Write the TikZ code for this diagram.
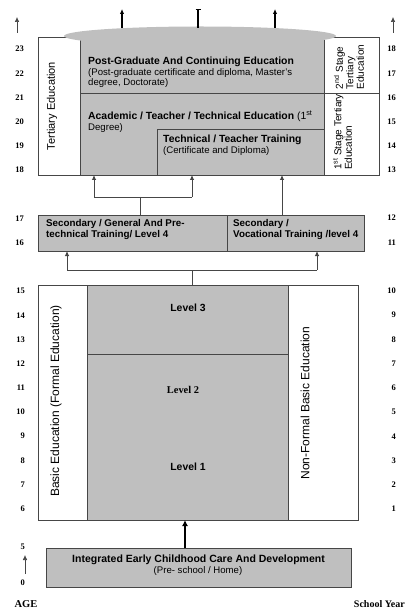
\documentclass[tikz,border=0pt]{standalone}
\usepackage{fontspec}
\setmainfont{Liberation Serif}
\setsansfont{Liberation Sans}
\usetikzlibrary{arrows.meta}

\definecolor{boxgray}{RGB}{191,191,191}
\definecolor{edge}{RGB}{70,70,70}

\tikzset{
  box/.style={draw=edge, line width=0.8pt, outer sep=0pt, inner sep=0pt},
  graybox/.style={box, fill=boxgray},
  head/.style={font=\sffamily\bfseries\fontsize{10.4}{11}\selectfont, anchor=base west, inner sep=0pt},
  note/.style={font=\sffamily\fontsize{9.6}{10.5}\selectfont, anchor=base west, inner sep=0pt},
  side/.style={font=\sffamily\fontsize{11}{12}\selectfont, rotate=90, inner sep=0pt},
  num/.style={font=\bfseries\fontsize{8.5}{10}\selectfont, anchor=east, inner sep=0pt},
  link/.style={draw=edge, line width=0.8pt},
  up/.style={link, -{Latex[length=5pt,width=4.5pt]}},
}

\begin{document}
\begin{tikzpicture}[x=1pt,y=-1pt]
  \useasboundingbox (0,0) rectangle (406,612);

  % tertiary block
  \node[box, fill=white, minimum width=341, minimum height=138, anchor=north west] (tert) at (38,37) {};
  \node[graybox, minimum width=244, minimum height=138, anchor=north west] (tmain) at (80,37) {};
  \node[graybox, minimum width=167, minimum height=46, anchor=north west] (ttech) at (157,129) {};
  \coordinate (pgl) at (80,93);
  \coordinate (pgr) at (379,93);
  \draw[link] (pgl) -- (pgr);
  \fill[boxgray] (200,36) ellipse [x radius=136, y radius=9.5];

  \coordinate (cap1) at (122,28);
  \coordinate (cap2) at (198,28);
  \coordinate (cap3) at (275,28);
  \draw[up, black, line width=1.3pt] (cap1) -- ++(0,-19);
  \draw[black, line width=1.3pt, -{Bar[width=5pt]}] (cap2) -- ++(0,-19);
  \draw[up, black, line width=1.3pt] (cap3) -- ++(0,-19);

  \node[side] (tlab) at (52,106) {Tertiary Education};
  \node[head] (pgt) at (88,65) {Post-Graduate And Continuing Education};
  \node[note] (pgs1) at (88,75.5) {(Post-graduate certificate and diploma, Master's};
  \node[note] (pgs2) at (88,86) {degree, Doctorate)};
  \node[head] (act) at (88,119.5) {Academic / Teacher / Technical Education \mdseries(1\textsuperscript{st}};
  \node[note] (acs) at (88,130.5) {Degree)};
  \node[head] (tct) at (163,142.5) {Technical / Teacher Training};
  \node[note] (tcs) at (163,154) {(Certificate and Diploma)};
  \node[side, font=\sffamily\fontsize{10}{10.5}\selectfont, align=left] (st2) at (349,67)
    {2\textsuperscript{nd} Stage\\Tertiary\\Education};
  \node[side, font=\sffamily\fontsize{10}{10.5}\selectfont, align=left] (st1) at (342.5,132)
    {1\textsuperscript{st} Stage Tertiary\\Education};

  % secondary block
  \node[graybox, minimum width=189, minimum height=36, anchor=north west] (sgen) at (38,215) {};
  \node[graybox, minimum width=137, minimum height=36, anchor=north west] (svoc) at (227,215) {};
  \node[head, font=\sffamily\bfseries\fontsize{9.8}{10.6}\selectfont, align=left, anchor=north west] (sgent) at (46,219.5)
    {Secondary / General And Pre-\\technical Training/ Level 4};
  \node[head, font=\sffamily\bfseries\fontsize{9.8}{10.6}\selectfont, align=left, anchor=north west] (svoct) at (233,219.5)
    {Secondary /\\Vocational Training /level 4};

  \coordinate (brkL) at (94,197);
  \coordinate (brkR) at (192,197);
  \coordinate (brkM) at (140,197);
  \draw[link] (brkL) -- (brkR);
  \draw[up] (brkL) -- (brkL |- tmain.south);
  \draw[up] (brkR) -- (brkR |- tmain.south);
  \draw[link] (brkM) -- (brkM |- sgen.north);
  \coordinate (vocup) at (282,215);
  \draw[up] (vocup) -- (vocup |- tmain.south);

  % basic block
  \node[box, fill=white, minimum width=320, minimum height=235, anchor=north west] (basic) at (38,285) {};
  \node[graybox, minimum width=201, minimum height=235, anchor=north west] (blev) at (87,285) {};
  \coordinate (l3l) at (87,354);
  \coordinate (l3r) at (288,354);
  \draw[link] (l3l) -- (l3r);

  \coordinate (splL) at (67,270);
  \coordinate (splR) at (317,270);
  \coordinate (splM) at (192,270);
  \draw[link] (splL) -- (splR);
  \draw[up] (splL) -- (splL |- sgen.south);
  \draw[up] (splR) -- (splR |- svoc.south);
  \draw[link] (splM) -- (splM |- basic.north);

  \node[head, anchor=base] (lv3) at (188,311) {Level 3};
  \node[head, anchor=base, font=\bfseries\fontsize{10.4}{11}\selectfont] (lv2) at (183,393) {Level 2};
  \node[head, anchor=base] (lv1) at (188,470) {Level 1};
  \node[side, font=\sffamily\fontsize{12}{13}\selectfont] (blab) at (56,401) {Basic Education (Formal Education)};
  \node[side, font=\sffamily\fontsize{12}{13}\selectfont] (nlab) at (305,403) {Non-Formal Basic Education};

  % early childhood
  \node[graybox, minimum width=305, minimum height=39, anchor=north west] (ecd) at (46,548) {};
  \node[head, anchor=base, font=\sffamily\bfseries\fontsize{10.5}{11}\selectfont] (ecdt) at (198.5,562)
    {Integrated Early Childhood Care And Development};
  \node[note, anchor=base] (ecds) at (198,573) {(Pre- school / Home)};
  \coordinate (ecdup) at (185,548);
  \draw[black, line width=1.8pt, -{Latex[length=6pt,width=6pt]}] (ecdup) -- (ecdup |- basic.south);

  % age and school year scales
  \foreach \a/\s [count=\i from 0] in {23/18,22/17,21/16,20/15,19/14,18/13} {
    \node[num] (ageT\a) at (24,49+24.2*\i) {\a};
    \node[num] (yrT\s) at (396,49+24.2*\i) {\s};
  }
  \node[num] (age17) at (24,219) {17};
  \node[num] (age16) at (24,243) {16};
  \node[num] (yr12) at (396,218) {12};
  \node[num] (yr11) at (396,243) {11};
  \foreach \a/\s [count=\i from 0] in {15/10,14/9,13/8,12/7,11/6,10/5,9/4,8/3,7/2,6/1} {
    \node[num] (ageB\a) at (25,291+24.2*\i) {\a};
    \node[num] (yrB\s) at (396,291+24.2*\i) {\s};
  }
  \node[num] (age5) at (25,547) {5};
  \node[num] (age0) at (25,583) {0};
  \coordinate (ageBL) at (25,574);
  \draw[up, line width=0.6pt] (ageBL) -- ++(0,-19);
  \coordinate (ageTL) at (17,33);
  \coordinate (ageTR) at (393,33);
  \draw[up, line width=0.6pt] (ageTL) -- ++(0,-16);
  \draw[up, line width=0.6pt] (ageTR) -- ++(0,-16);

  \node[num, anchor=base, font=\bfseries\fontsize{10.5}{11}\selectfont] (agel) at (26,607) {AGE};
  \node[num, anchor=base east, font=\bfseries\fontsize{10}{11}\selectfont] (yrl) at (405,607) {School Year};
\end{tikzpicture}
\end{document}
